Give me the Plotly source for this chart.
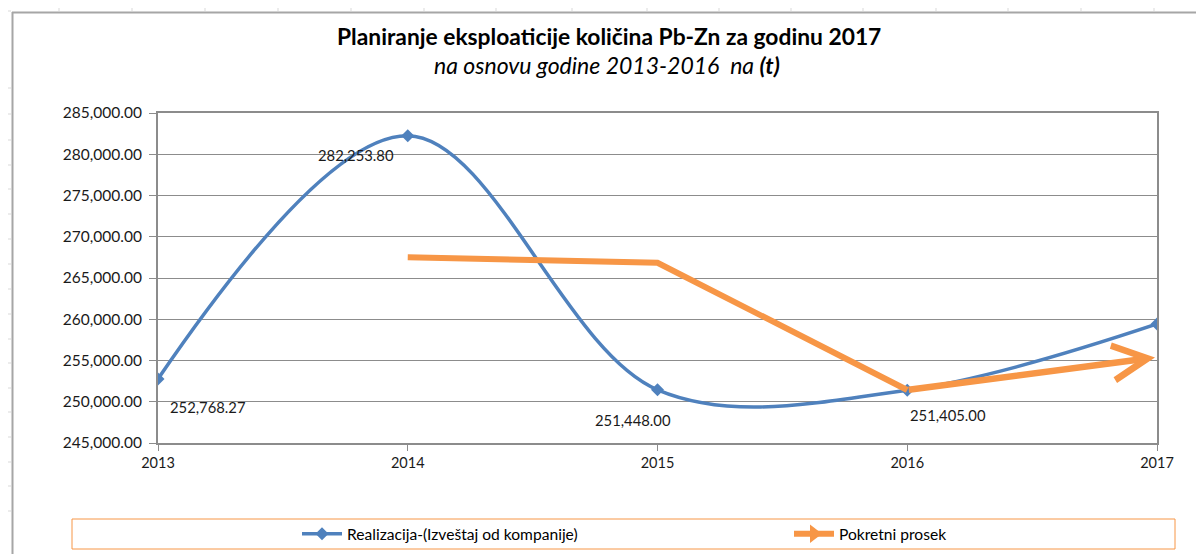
import plotly.graph_objects as go

# ---------------- data ----------------
years = [2013, 2014, 2015, 2016, 2017]
realizacija = [252768.27, 282253.80, 251448.00, 251405.00, 259420.00]

ma_years = [2014, 2015, 2016, 2017]
pokretni_prosek = [267511.0, 266851.0, 251426.5, 255410.0]

y_tick_vals = [245000, 250000, 255000, 260000, 265000, 270000, 275000, 280000, 285000]
y_tick_text = ["245,000.00", "250,000.00", "255,000.00", "260,000.00", "265,000.00",
               "270,000.00", "275,000.00", "280,000.00", "285,000.00"]
x_tick_text = ["2013", "2014", "2015", "2016", "2017"]

label_years = [2013, 2014, 2015, 2016]
label_texts = ["252,768.27", "282,253.80", "251,448.00", "251,405.00"]

series_names = ["Realizacija-(Izveštaj od kompanije)", "Pokretni prosek"]
title_text = "Planiranje eksploaticije količina Pb-Zn za godinu 2017"
subtitle_text = "na osnovu godine 2013-2016&nbsp; na <b>(t)</b>"

# ---------------- layout geometry ----------------
OFF = 8                      # default page body margin
W, H = 1204 - OFF, 554 - OFF
L = 158 - OFF
T = 113 - OFF
R = W - (1157 - OFF)
B = H - (443 - OFF)
FONT = "Lato, 'Open Sans', sans-serif"
BLUE = "#4F81BD"
ORANGE = "#F79646"
GRID = "#8C8C8C"


def sx(p):
    """screen x (reference pixels) -> paper fraction"""
    return (p - OFF - L) / (W - L - R)


def sy(p):
    """screen y (reference pixels) -> paper fraction"""
    return 1 - (p - OFF - T) / (H - T - B)


fig = go.Figure()

fig.add_trace(go.Scatter(
    x=years, y=realizacija, name=series_names[0],
    mode="lines+markers",
    line=dict(color=BLUE, width=3.5, shape="spline", smoothing=1.0),
    marker=dict(symbol="diamond", size=10, color=BLUE),
    hoverinfo="x+y", legend="legend",
))

# moving average (all but last segment as a line, last segment as arrow annotation)
fig.add_trace(go.Scatter(
    x=ma_years[:-1], y=pokretni_prosek[:-1], name=series_names[1],
    mode="lines", line=dict(color=ORANGE, width=6),
    showlegend=False, hoverinfo="x+y",
))
# legend entry for the moving average (arrow look)
fig.add_trace(go.Scatter(
    x=[None], y=[None], name=series_names[1],
    mode="lines+markers", line=dict(color=ORANGE, width=6),
    marker=dict(symbol="triangle-right", size=18, color=ORANGE),
    legend="legend2",
))

annotations = []
annotations.append(dict(
    x=ma_years[-1], y=pokretni_prosek[-1], xref="x", yref="y",
    ax=ma_years[-2], ay=pokretni_prosek[-2], axref="x", ayref="y",
    showarrow=True, arrowhead=5, arrowsize=1.05, arrowwidth=6.5,
    arrowcolor=ORANGE, text="", standoff=2,
))

# data labels
shifts = [(50, -28), (-52, -19), (-25, -30), (41, -25)]
for yr, txt, (dx, dy) in zip(label_years, label_texts, shifts):
    idx = years.index(yr)
    annotations.append(dict(
        x=yr, y=realizacija[idx], xref="x", yref="y", text=txt,
        showarrow=False, xshift=dx, yshift=dy,
        font=dict(family=FONT, size=14.8, color="#1a1a1a"),
    ))

# titles
annotations.append(dict(
    x=sx(609), y=sy(36), xref="paper", yref="paper", text="<b>" + title_text + "</b>",
    showarrow=False, xanchor="center", yanchor="middle",
    font=dict(family=FONT, size=22.8, color="#000000"),
))
annotations.append(dict(
    x=sx(607), y=sy(65), xref="paper", yref="paper", text="<i>" + subtitle_text + "</i>",
    showarrow=False, xanchor="center", yanchor="middle",
    font=dict(family=FONT, size=23, color="#000000"),
))

shapes = []
# chart outer border
shapes.append(dict(type="line", xref="paper", yref="paper",
                   x0=sx(12), x1=sx(1220), y0=sy(12.5), y1=sy(12.5),
                   line=dict(color="#A6A6A6", width=2)))
shapes.append(dict(type="line", xref="paper", yref="paper",
                   x0=sx(12.5), x1=sx(12.5), y0=sy(12), y1=sy(570),
                   line=dict(color="#A6A6A6", width=2)))
# spreadsheet grid stubs
col_x = [59, 132, 205, 278, 351, 424, 496, 572, 647, 719, 791, 863, 936, 1008, 1081, 1154]
for cx in col_x:
    shapes.append(dict(type="line", xref="paper", yref="paper",
                       x0=sx(cx), x1=sx(cx), y0=sy(2), y1=sy(11),
                       line=dict(color="#D9D9D9", width=1)))
row_y = [11, 88, 114, 140, 165, 189, 214, 239, 264, 289, 314, 339, 363, 388, 412, 437, 462, 486, 511]
for ry in row_y:
    shapes.append(dict(type="line", xref="paper", yref="paper",
                       x0=sx(4), x1=sx(11), y0=sy(ry), y1=sy(ry),
                       line=dict(color="#D9D9D9", width=1)))
# legend frame
shapes.append(dict(type="rect", xref="paper", yref="paper",
                   x0=sx(72), x1=sx(1175), y0=sy(519), y1=sy(549),
                   line=dict(color=ORANGE, width=1), fillcolor="rgba(0,0,0,0)"))

legend_style = dict(
    orientation="h", xanchor="left", yanchor="middle",
    font=dict(family=FONT, size=15.6, color="#000000"),
    bgcolor="rgba(0,0,0,0)", itemwidth=40,
)

fig.update_layout(
    width=W, height=H,
    margin=dict(l=L, r=R, t=T, b=B, pad=0, autoexpand=False),
    paper_bgcolor="white", plot_bgcolor="white",
    font=dict(family=FONT, size=14, color="#1a1a1a"),
    showlegend=True,
    legend=dict(x=sx(297), y=sy(534), **legend_style),
    legend2=dict(x=sx(789), y=sy(534), **legend_style),
    annotations=annotations,
    shapes=shapes,
    xaxis=dict(
        range=[2013, 2017], tickmode="array", tickvals=years, ticktext=x_tick_text,
        showgrid=False, zeroline=False,
        showline=True, linecolor=GRID, linewidth=2, mirror=True,
        ticks="outside", ticklen=6, tickcolor=GRID, tickwidth=1,
        tickfont=dict(family=FONT, size=14.5, color="#1a1a1a"),
    ),
    yaxis=dict(
        range=[245000, 285000], tickmode="array", tickvals=y_tick_vals, ticktext=y_tick_text,
        showgrid=True, gridcolor=GRID, gridwidth=1, zeroline=False,
        showline=True, linecolor=GRID, linewidth=2, mirror=True,
        ticks="outside", ticklen=7, tickcolor=GRID, tickwidth=1,
        ticklabelstandoff=4,
        tickfont=dict(family=FONT, size=15.5, color="#1a1a1a"),
    ),
)

fig.write_html("out.html")
